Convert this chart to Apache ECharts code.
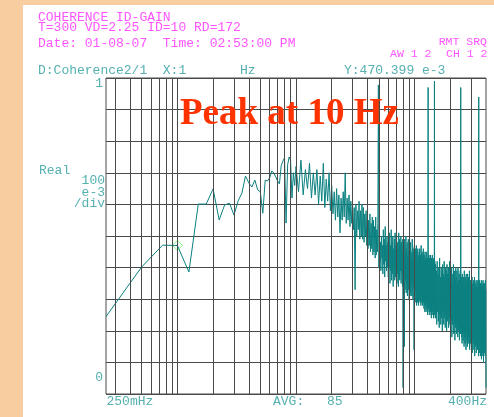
<!DOCTYPE html>
<html><head><meta charset="utf-8">
<script src="https://cdn.jsdelivr.net/npm/echarts@6/dist/echarts.min.js"></script>
<style>
html,body{margin:0;padding:0;background:#f8cd9f;overflow:hidden;}
#card{position:absolute;left:23px;top:5px;width:471px;height:412px;background:#fff;}
#c{position:absolute;left:0;top:0;width:494px;height:417px;}
</style>
</head><body><div id="card"></div><div id="c"></div>
<script>
// ---- data ----
const lowFreqs = [0.25,0.5,0.75,1,1.25,1.5,1.75,2,2.25,2.5,2.75,3,3.25,3.5,3.75,4,4.25,4.5,4.75,5,
  5.25,5.5,5.75,6,6.25,6.5,6.75,7,7.25,7.5,7.75,8,8.25,8.5,8.75,9,9.25,9.5,9.75];
const lowValues = [0.245,0.402,0.471,0.470,0.386,0.601,0.601,0.649,0.551,0.598,0.604,0.566,0.611,0.636,0.690,0.668,0.655,0.677,0.646,0.640,
  0.572,0.677,0.674,0.684,0.706,0.699,0.687,0.674,0.665,0.722,0.737,0.747,0.541,0.725,0.750,0.740,0.620,0.700,0.660];

// 10 Hz .. 49.5 Hz, every 0.5 Hz
const midStart = 10, midStep = 0.5;
const midValues = [
  0.72,0.64,0.74,0.63,0.71,0.65,0.73,0.62,0.70,0.63,
  0.71,0.60,0.69,0.61,0.73,0.59,0.68,0.61,0.70,0.58,
  0.66,0.57,0.64,0.55,0.65,0.56,0.63,0.51,0.62,0.55,
  0.64,0.56,0.70,0.54,0.62,0.55,0.63,0.53,0.61,0.54,
  0.60,0.52,0.59,0.33,0.60,0.50,0.58,0.52,0.61,0.49,
  0.58,0.50,0.60,0.49,0.59,0.48,0.57,0.50,0.58,0.47,
  0.56,0.46,0.55,0.47,0.57,0.45,0.54,0.46,0.56,0.44,
  0.55,0.45,0.53,0.43,0.56,0.44,0.52,0.45,0.54,0.978];

// 50 Hz .. 149.5 Hz, every 0.5 Hz
const highStart = 50, highStep = 0.5;
const highValues = [
  0.40,0.51,0.42,0.48,0.39,0.50,0.43,0.47,0.38,0.52,
  0.41,0.49,0.37,0.53,0.42,0.47,0.39,0.50,0.40,0.48,
  0.37,0.49,0.40,0.51,0.35,0.47,0.39,0.52,0.36,0.48,
  0.38,0.50,0.34,0.46,0.40,0.49,0.36,0.51,0.37,0.47,
  0.39,0.50,0.35,0.48,0.38,0.46,0.34,0.51,0.37,0.49,
  0.36,0.47,0.39,0.50,0.35,0.48,0.38,0.45,0.34,0.49,
  0.02,0.48,0.35,0.46,0.15,0.49,0.33,0.45,0.36,0.50,
  0.32,0.46,0.35,0.48,0.31,0.44,0.34,0.49,0.33,0.45,
  0.30,0.47,0.34,0.44,0.32,0.48,0.31,0.45,0.35,0.43,
  0.31,0.49,0.33,0.44,0.30,0.46,0.34,0.45,0.14,0.47,
  0.31,0.44,0.29,0.46,0.33,0.43,0.30,0.47,0.28,0.45,
  0.32,0.42,0.29,0.46,0.31,0.44,0.28,0.43,0.33,0.45,
  0.30,0.46,0.29,0.42,0.32,0.44,0.28,0.47,0.31,0.43,
  0.29,0.45,0.32,0.41,0.28,0.44,0.30,0.46,0.29,0.42,
  0.27,0.44,0.30,0.42,0.26,0.45,0.29,0.41,0.28,0.43,
  0.26,0.42,0.29,0.45,0.27,0.40,0.30,0.43,0.25,0.41,
  0.97,0.30,0.42,0.27,0.44,0.26,0.40,0.29,0.43,0.25,
  0.41,0.28,0.44,0.26,0.39,0.29,0.42,0.24,0.43,0.27,
  0.40,0.25,0.44,0.28,0.41,0.26,0.39,0.29,0.42,0.24,
  0.43,0.27,0.40,0.25,0.99,0.28,0.42,0.26,0.41,0.24];

// 150 Hz .. 400 Hz, every 1.25 Hz
const topStart = 150, topStep = 1.25;
const topValues = [
  0.41,0.24,0.39,0.22,0.42,0.26,0.38,0.23,0.40,0.21,
  0.43,0.25,0.37,0.22,0.40,0.24,0.39,0.20,0.41,0.26,
  0.38,0.22,0.42,0.24,0.37,0.21,0.40,0.25,0.39,0.20,
  0.41,0.23,0.38,0.26,0.40,0.21,0.37,0.24,0.42,0.22,
  0.39,0.20,0.36,0.23,0.40,0.18,0.38,0.22,0.35,0.24,
  0.41,0.19,0.37,0.22,0.39,0.17,0.36,0.21,0.40,0.23,
  0.37,0.19,0.39,0.22,0.35,0.18,0.40,0.20,0.36,0.21,
  0.38,0.17,0.36,0.23,0.39,0.19,0.97,0.20,0.37,0.18,
  0.36,0.16,0.38,0.19,0.34,0.17,0.37,0.20,0.35,0.15,
  0.39,0.18,0.33,0.16,0.37,0.20,0.35,0.14,0.38,0.19,
  0.34,0.17,0.36,0.15,0.38,0.19,0.33,0.18,0.37,0.16,
  0.35,0.20,0.39,0.14,0.34,0.18,0.36,0.16,0.33,0.19,
  0.36,0.15,0.34,0.18,0.37,0.13,0.32,0.17,0.35,0.16,
  0.33,0.19,0.36,0.14,0.34,0.17,0.37,0.12,0.32,0.18,
  0.35,0.15,0.33,0.18,0.36,0.13,0.34,0.16,0.31,0.19,
  0.36,0.14,0.34,0.17,0.32,0.15,0.35,0.12,0.94,0.16,
  0.33,0.13,0.36,0.17,0.31,0.15,0.34,0.12,0.35,0.16,
  0.32,0.14,0.36,0.11,0.33,0.17,0.35,0.13,0.31,0.15,
  0.34,0.12,0.36,0.16,0.32,0.10,0.35,0.14,0.33,0.17,
  0.31,0.13,0.35,0.15,0.32,0.12,0.36,0.14,0.33,0.16,
  0.02];

const markerFreq = 1, markerValue = 0.470399;
const gridFreqs = [0.3,0.4,0.5,0.6,0.7,0.8,0.9,1,2,3,4,5,6,7,8,9,10,20,30,40,50,60,70,80,90,100,200,300];
const xMin = 0.25, xMax = 400, yMin = 0, yMax = 1, yStep = 0.1;

// ---- build ----
const trace = [];
lowFreqs.forEach((f,i)=>trace.push([f, lowValues[i]]));
midValues.forEach((v,i)=>trace.push([midStart + i*midStep, v]));
highValues.forEach((v,i)=>trace.push([highStart + i*highStep, v]));
topValues.forEach((v,i)=>trace.push([topStart + i*topStep, v]));

const MAG = '#ff55ff', TEAL = '#55b0b0';
const MONO = '"Liberation Mono","DejaVu Sans Mono",monospace';
function txt(s, x, y, fill, font, align){
  return {type:'text', x:x, y:y, z:100, silent:true,
    style:{text:s, fill:fill, font:font, textAlign:align||'left', textVerticalAlign:'middle'}};
}
const f13 = '13px ' + MONO, f11 = '11.5px ' + MONO;

const chart = echarts.init(document.getElementById('c'), null, {renderer:'canvas'});
chart.setOption({
  backgroundColor:'transparent',
  animation:false,
  grid:{left:106, top:78, width:380, height:316, show:true, borderColor:'#4a4a4a', borderWidth:1, backgroundColor:'transparent'},
  xAxis:{type:'log', logBase:10, min:xMin, max:xMax,
    axisLine:{show:false}, axisTick:{show:false}, axisLabel:{show:false}, splitLine:{show:false}, minorSplitLine:{show:false}},
  yAxis:{type:'value', min:yMin, max:yMax, interval:yStep,
    axisLine:{show:false}, axisTick:{show:false}, axisLabel:{show:false},
    splitLine:{show:true, lineStyle:{color:'#4a4a4a', width:1}}},
  series:[
    {type:'line', data:[], z:1, silent:true,
      markLine:{silent:true, symbol:['none','none'], label:{show:false}, animation:false,
        lineStyle:{color:'#4a4a4a', width:1, type:'solid'},
        data: gridFreqs.map(f=>({xAxis:f}))}},
    {type:'line', data:trace, z:3, silent:true, showSymbol:false, symbol:'none',
      lineStyle:{color:'#0a8080', width:1}},
    {type:'scatter', data:[[markerFreq, markerValue]], z:4, silent:true,
      symbol:'diamond', symbolSize:[10,10],
      itemStyle:{color:'rgba(0,0,0,0)', borderColor:'#6ef06e', borderWidth:1}}
  ],
  graphic:[
    txt('COHERENCE ID-GAIN', 38, 17.5, MAG, f13),
    txt('T=300 VD=2.25 ID=10 RD=172', 38, 28, MAG, f13),
    txt('Date: 01-08-07  Time: 02:53:00 PM', 38, 44, MAG, f13),
    txt('RMT SRQ', 487, 42, MAG, f11, 'right'),
    txt('AW 1 2', 390, 54, MAG, f11),
    txt('CH 1 2', 446, 54, MAG, f11),
    txt('D:Coherence2/1  X:1', 38, 71, TEAL, f13),
    txt('Hz', 240, 71, TEAL, f13),
    txt('Y:470.399 e-3', 344, 71, TEAL, f13),
    txt('1', 103, 84, TEAL, f13, 'right'),
    txt('Real', 39, 171, TEAL, f13),
    txt('100', 105, 181, TEAL, f13, 'right'),
    txt('e-3', 105, 192.7, TEAL, f13, 'right'),
    txt('/div', 105, 203.7, TEAL, f13, 'right'),
    txt('0', 103, 378, TEAL, f13, 'right'),
    txt('250mHz', 106.5, 402, TEAL, f13),
    txt('AVG:', 273, 402, TEAL, f13),
    txt('85', 327, 402, TEAL, f13),
    txt('400Hz', 487, 402, TEAL, f13, 'right'),
    txt('Peak at 10 Hz', 180, 114, '#ff3300', 'bold 37px "Liberation Serif","Times New Roman",serif')
  ]
});
</script>
</body></html>
